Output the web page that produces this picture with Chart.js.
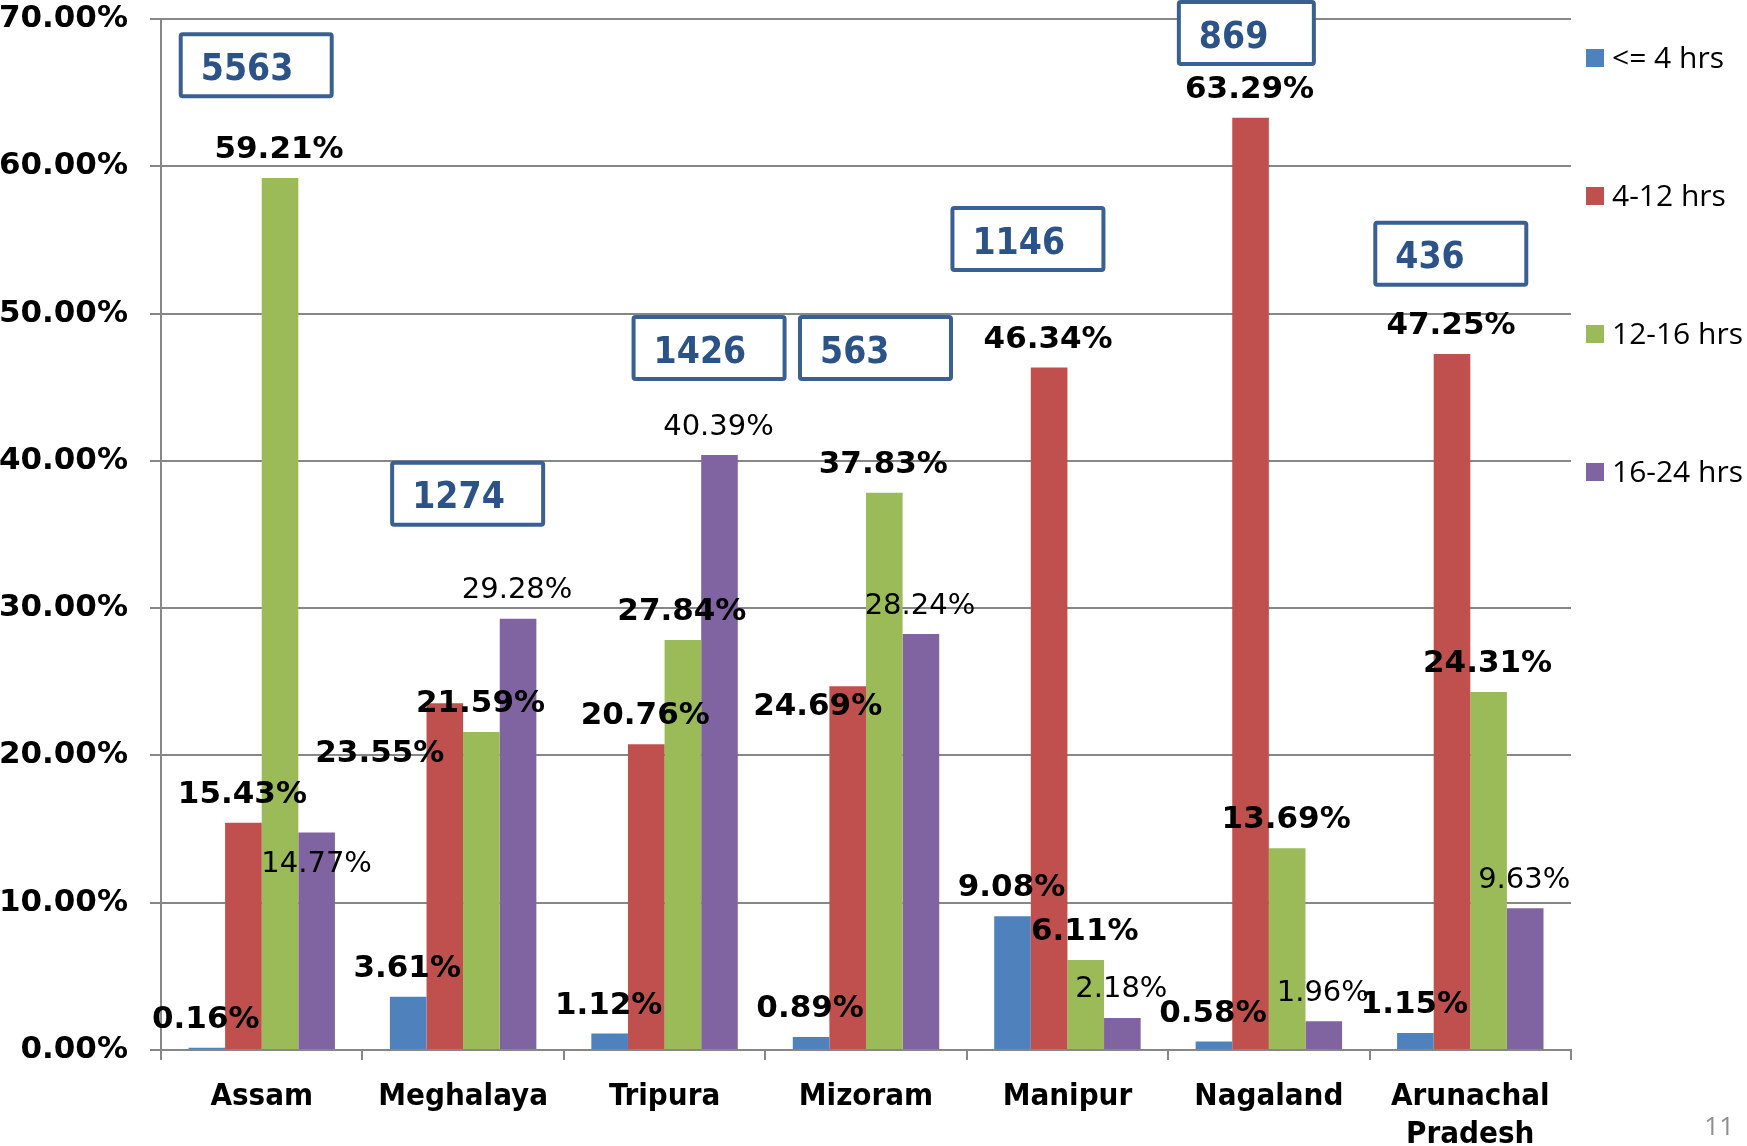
<!DOCTYPE html>
<html>
<head>
<meta charset="utf-8">
<title>Hours of supply by state</title>
<script src="https://cdn.jsdelivr.net/npm/chart.js@4.4.1/dist/chart.umd.min.js"></script>
<style>
  html, body { margin: 0; padding: 0; background: #fff; }
  #wrap { position: relative; width: 1747px; height: 1146px; }
</style>
</head>
<body>
<div id="wrap"><canvas id="chart"></canvas></div>
<script>
const states = ["Assam", "Meghalaya", "Tripura", "Mizoram", "Manipur", "Nagaland", "Arunachal Pradesh"];
const seriesNames = ["<= 4 hrs", "4-12 hrs", "12-16 hrs", "16-24 hrs"];
const upTo4 = [0.16, 3.61, 1.12, 0.89, 9.08, 0.58, 1.15];
const h4to12 = [15.43, 23.55, 20.76, 24.69, 46.34, 63.29, 47.25];
const h12to16 = [59.21, 21.59, 27.84, 37.83, 6.11, 13.69, 24.31];
const h16to24 = [14.77, 29.28, 40.39, 28.24, 2.18, 1.96, 9.63];
const sampleSizes = [5563, 1274, 1426, 563, 1146, 869, 436];
const yMax = 70;
const yStep = 10;

const colors = ["#4F81BD", "#C0504D", "#9BBB59", "#8064A2"];
const gridColor = "#878787";

// boxes with sample sizes: [x offset from category centre (px), top (axis value), width]
const boxLayout = [[-83, 69.1, 155], [-73, 40.0, 155], [-33, 49.9, 155], [-68, 49.9, 155],
                   [-117, 57.3, 155], [-92, 71.3, 139], [-97, 56.3, 155]];
// labels that were moved by hand in the original, "dataset:index" -> [dx, dy] from bar top
const labelMoves = { "3:0": [0, 32], "1:1": [-65, 51], "1:3": [-30, 21] };

const boxPlugin = {
  id: "sampleBoxes",
  afterDatasetsDraw(chart) {
    const { ctx, scales: { x, y } } = chart;
    ctx.save();
    sampleSizes.forEach((n, i) => {
      const [dx, top, w] = boxLayout[i];
      const left = x.getPixelForValue(i) + dx;
      const ty = Math.max(0, y.getPixelForValue(top));
      const h = 66;
      ctx.fillStyle = "#fff";
      ctx.strokeStyle = "#3A6091";
      ctx.lineWidth = 4;
      ctx.beginPath();
      ctx.roundRect(left + 2, ty + 2, w - 4, h - 4, 2);
      ctx.fill();
      ctx.stroke();
      ctx.fillStyle = "#2B5388";
      ctx.font = "bold 37px 'DejaVu Sans Condensed', 'DejaVu Sans', sans-serif";
      ctx.textAlign = "left";
      ctx.textBaseline = "middle";
      ctx.fillText(String(n), left + 22, ty + h / 2 + 5);
    });
    ctx.restore();
  }
};

const labelPlugin = {
  id: "valueLabels",
  afterDatasetsDraw(chart) {
    const { ctx } = chart;
    ctx.save();
    ctx.fillStyle = "#000";
    ctx.textAlign = "center";
    ctx.textBaseline = "middle";
    chart.data.datasets.forEach((ds, di) => {
      ctx.font = di === 3 ? "29px 'DejaVu Sans', sans-serif" : "bold 31px 'DejaVu Sans', sans-serif";
      chart.getDatasetMeta(di).data.forEach((bar, i) => {
        const [dx, dy] = labelMoves[di + ":" + i] || [-1, -28];
        ctx.fillText(ds.data[i].toFixed(2) + "%", bar.x + dx, bar.y + dy);
      });
    });
    ctx.restore();
  }
};

const legendPlugin = {
  id: "sideLegend",
  afterDraw(chart) {
    const { ctx } = chart;
    ctx.save();
    ctx.font = "30px 'Open Sans', sans-serif";
    ctx.textAlign = "left";
    ctx.textBaseline = "middle";
    chart.data.datasets.forEach((ds, i) => {
      const cy = 58 + i * 138;
      ctx.fillStyle = ds.backgroundColor;
      ctx.fillRect(1586, cy - 9, 18, 18);
      ctx.fillStyle = "#000";
      ctx.fillText(ds.label, 1612, cy + 1);
    });
    // slide number
    ctx.font = "26px 'Open Sans', sans-serif";
    ctx.fillStyle = "#8f8f8f";
    ctx.textAlign = "right";
    ctx.textBaseline = "alphabetic";
    ctx.fillText("11", 1734, 1135);
    ctx.restore();
  }
};

const seriesData = [upTo4, h4to12, h12to16, h16to24];

new Chart(document.getElementById("chart"), {
  type: "bar",
  data: {
    labels: states,
    datasets: seriesData.map((d, i) => ({
      label: seriesNames[i],
      data: d,
      backgroundColor: colors[i],
      borderWidth: 0,
      categoryPercentage: 0.727,
      barPercentage: 1.0
    }))
  },
  options: {
    responsive: true,
    maintainAspectRatio: false,
    animation: false,
    layout: { padding: { top: 0, right: 176, left: 0, bottom: 0 } },
    plugins: {
      legend: { display: false },
      tooltip: { enabled: false }
    },
    scales: {
      x: {
        grid: { drawOnChartArea: false, drawTicks: true, tickLength: 10, color: gridColor, lineWidth: 2, offset: true },
        border: { display: true, color: gridColor, width: 2 },
        ticks: {
          color: "#000",
          padding: 18,
          maxRotation: 0,
          autoSkip: false,
          font: { family: "'DejaVu Sans Condensed', 'DejaVu Sans', sans-serif", size: 31, weight: "bold", lineHeight: 1.23 },
          callback: function (v) {
            const s = this.getLabelForValue(v);
            return s.indexOf(" ") > 0 ? s.split(" ") : s;
          }
        },
        afterFit: s => { s.height = 96; }
      },
      y: {
        min: 0,
        max: yMax,
        grid: { color: gridColor, lineWidth: 2, tickLength: 11, drawTicks: true },
        border: { display: true, color: gridColor, width: 2 },
        ticks: {
          stepSize: yStep,
          color: "#000",
          padding: 22,
          font: { family: "'DejaVu Sans', sans-serif", size: 31, weight: "bold" },
          callback: v => v.toFixed(2) + "%"
        },
        afterFit: s => { s.width = 161; s.paddingTop = 19; s.paddingBottom = 0; }
      }
    }
  },
  plugins: [boxPlugin, labelPlugin, legendPlugin]
});
</script>
</body>
</html>
